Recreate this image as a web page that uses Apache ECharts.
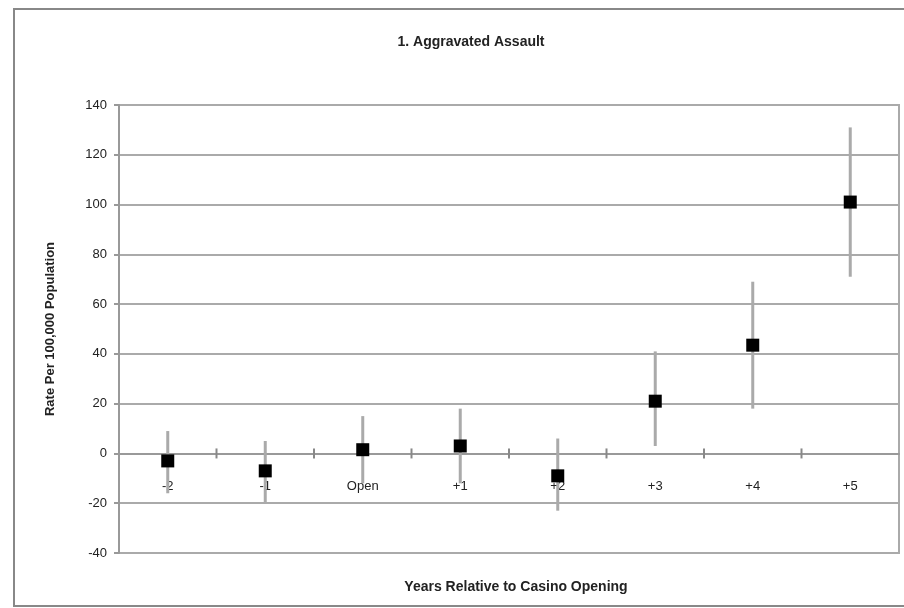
<!DOCTYPE html>
<html>
<head>
<meta charset="utf-8">
<script src="https://cdn.jsdelivr.net/npm/echarts@6/dist/echarts.min.js"></script>
<style>html,body{margin:0;padding:0;background:#fff}#c{width:904px;height:608px}</style>
</head>
<body>
<div id="c"></div>
<script>
const categories = ['-2', '-1', 'Open', '+1', '+2', '+3', '+4', '+5'];
const rates = [-3, -7, 1.5, 3, -9, 21, 43.5, 101];
const lowerBounds = [-16, -20, -12, -12, -23, 3, 18, 71];
const upperBounds = [9, 5, 15, 18, 6, 41, 69, 131];
const yTicks = {min: -40, max: 140, interval: 20};

const gridBox = {left: 119, top: 105, width: 780, height: 448};
// place the category axis where the value axis crosses zero
const zeroOffset = -gridBox.height * (0 - yTicks.min) / (yTicks.max - yTicks.min);

const chart = echarts.init(document.getElementById('c'));
const errData = categories.map((c, i) => [i, lowerBounds[i], upperBounds[i]]);
const tickData = categories.slice(0, -1).map((c, i) => [i]);
const txt = '#222';
const font = 'Liberation Sans, Arial, sans-serif';
chart.setOption({
  backgroundColor: '#fff',
  animation: false,
  title: [{
    text: '1. Aggravated Assault', left: 466, top: 30, textAlign: 'center',
    textStyle: {fontFamily: font, fontSize: 14, fontWeight: 'bold', color: txt}
  }, {
    text: 'Years Relative to Casino Opening', left: 511, top: 575, textAlign: 'center',
    textStyle: {fontFamily: font, fontSize: 14, fontWeight: 'bold', color: txt}
  }],
  graphic: [{
    type: 'rect', shape: {x: 14, y: 9, width: 900, height: 597},
    style: {fill: 'none', stroke: '#888', lineWidth: 2}, silent: true, z: -1
  }],
  grid: Object.assign({show: true, borderColor: '#aaa', borderWidth: 2}, gridBox),
  xAxis: {
    type: 'category', data: categories, boundaryGap: true, position: 'bottom',
    offset: zeroOffset,
    axisLine: {show: true, onZero: false, lineStyle: {color: '#999', width: 2}},
    axisTick: {show: false},
    axisLabel: {fontFamily: font, fontSize: 13, color: txt, margin: 26}
  },
  yAxis: {
    type: 'value', min: yTicks.min, max: yTicks.max, interval: yTicks.interval,
    name: 'Rate Per 100,000 Population', nameLocation: 'middle', nameGap: 62, nameRotate: 90,
    nameTextStyle: {fontFamily: font, fontSize: 13, fontWeight: 'bold', color: txt},
    axisLine: {show: true, onZero: false, lineStyle: {color: '#999', width: 2}},
    axisTick: {show: true, length: 5, lineStyle: {color: '#999', width: 2}},
    axisLabel: {fontFamily: font, fontSize: 13, color: txt, margin: 12},
    splitLine: {show: true, lineStyle: {color: '#aaa', width: 2}}
  },
  series: [{
    type: 'custom',
    data: tickData,
    renderItem: function (params, api) {
      const c = api.coord([api.value(0), 0]);
      const bw = api.size([1, 0])[0];
      const x = c[0] + bw / 2;
      return {type: 'line', shape: {x1: x, y1: c[1] - 5, x2: x, y2: c[1] + 5},
        style: {stroke: '#888', lineWidth: 2}};
    },
    z: 1
  }, {
    type: 'custom',
    data: errData,
    renderItem: function (params, api) {
      const lo = api.coord([api.value(0), api.value(1)]);
      const hi = api.coord([api.value(0), api.value(2)]);
      return {type: 'line', shape: {x1: lo[0], y1: lo[1], x2: hi[0], y2: hi[1]},
        style: {stroke: '#aaa', lineWidth: 3}};
    },
    z: 2
  }, {
    type: 'scatter', data: rates, symbol: 'rect', symbolSize: 13,
    itemStyle: {color: '#000', opacity: 1}, z: 3
  }]
});
</script>
</body>
</html>
